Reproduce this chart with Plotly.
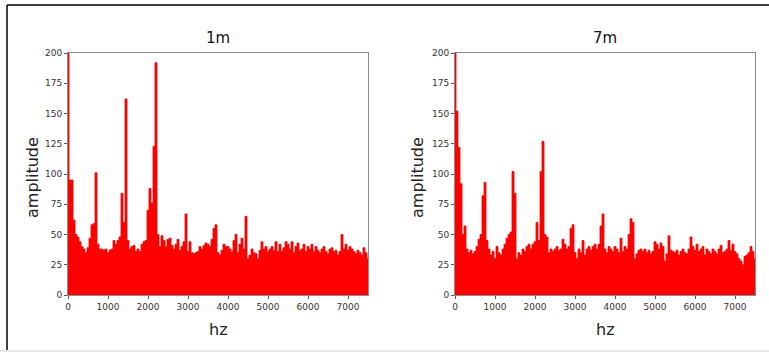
import plotly.graph_objects as go

# frequency grid (Hz), 50 Hz bins
hz = list(range(0, 7550, 50))

amp_1m = [
    240, 95, 95, 62, 50, 48, 44, 40, 38, 35,
    39, 47, 58, 59, 101, 42, 38, 38, 37, 38,
    35, 37, 38, 45, 42, 45, 48, 84, 60, 162,
    45, 38, 40, 41, 36, 38, 36, 42, 44, 45,
    70, 88, 76, 123, 192, 50, 40, 49, 45, 40,
    46, 47, 41, 38, 42, 46, 37, 40, 44, 67,
    36, 44, 35, 34, 35, 36, 40, 38, 41, 43,
    42, 40, 46, 55, 58, 35, 33, 37, 42, 40,
    40, 38, 36, 45, 50, 35, 42, 47, 38, 65,
    30, 33, 38, 35, 34, 30, 37, 44, 38, 40,
    36, 38, 40, 37, 44, 36, 42, 36, 39, 44,
    42, 38, 44, 35, 40, 43, 37, 38, 42, 36,
    40, 38, 42, 36, 40, 37, 35, 38, 40, 36,
    34, 38, 39, 36, 37, 33, 36, 50, 38, 42,
    37, 40, 38, 36, 34, 37, 35, 33, 39, 35, 30,
]

amp_7m = [
    240, 152, 122, 92, 50, 57, 38, 35, 37, 34,
    36, 40, 46, 50, 82, 93, 45, 38, 33, 36,
    30, 40, 35, 33, 38, 42, 47, 50, 52, 102,
    84, 30, 35, 33, 38, 36, 40, 42, 38, 42,
    44, 60, 45, 102, 127, 50, 48, 35, 38, 36,
    38, 40, 37, 38, 46, 42, 38, 40, 55, 58,
    35, 30, 38, 35, 45, 33, 38, 40, 37, 40,
    42, 38, 42, 57, 67, 38, 35, 40, 38, 36,
    40, 38, 35, 47, 36, 40, 38, 50, 63, 60,
    30, 34, 37, 38, 36, 38, 35, 37, 34, 36,
    44, 42, 38, 43, 40, 28, 34, 49, 37, 36,
    35, 37, 33, 36, 38, 35, 34, 38, 48, 40,
    37, 42, 36, 38, 40, 33, 38, 36, 34, 38,
    36, 34, 38, 41, 35, 36, 38, 45, 37, 42,
    36, 34, 30, 28, 25, 32, 33, 35, 40, 36, 30,
]

titles = ["1m", "7m"]
y_ticks = [0, 25, 50, 75, 100, 125, 150, 175, 200]
x_ticks = [0, 1000, 2000, 3000, 4000, 5000, 6000, 7000]

W, H = 769, 352
fig = go.Figure()

panels = [
    (amp_1m, "x", "y", (68, 368)),
    (amp_7m, "x2", "y2", (455, 755)),
]
for amp, xa, ya, _ in panels:
    fig.add_trace(go.Scatter(
        x=hz, y=amp, xaxis=xa, yaxis=ya, mode="lines",
        line=dict(color="#ff0000", width=0.8, shape="hvh"),
        fill="tozeroy", fillcolor="#ff0000", showlegend=False,
        hoverinfo="skip",
    ))

y_dom = [(352 - 295) / H, (352 - 53) / H]
axis_common = dict(
    showline=True, linecolor="#8c8c8c", linewidth=1, mirror=True,
    showgrid=False, zeroline=False, ticks="outside", ticklen=3,
    tickcolor="#555", automargin=False,
    tickfont=dict(family="DejaVu Sans", size=9, color="#333"),
)
layout = dict(
    width=W, height=H, margin=dict(l=0, r=0, t=0, b=0, pad=0),
    autosize=False,
    paper_bgcolor="white", plot_bgcolor="white",
    font=dict(family="DejaVu Sans"),
    xaxis=dict(domain=[68 / W, 368 / W], range=[0, 7500], tickvals=x_ticks,
               anchor="y", **axis_common),
    yaxis=dict(domain=y_dom, range=[0, 200], tickvals=y_ticks,
               anchor="x", **axis_common),
    xaxis2=dict(domain=[455 / W, 755 / W], range=[0, 7500], tickvals=x_ticks,
                anchor="y2", **axis_common),
    yaxis2=dict(domain=y_dom, range=[0, 200], tickvals=y_ticks,
                anchor="x2", **axis_common),
)
fig.update_layout(**layout)

ann = []
for (amp, xa, ya, (x0, x1)), t, ylab_x in zip(panels, titles, [33, 418]):
    cx = (x0 + x1) / 2 / W
    ann.append(dict(text=t, x=cx, y=(352 - 38) / H, xref="paper", yref="paper",
                    xanchor="center", yanchor="middle", showarrow=False,
                    font=dict(family="DejaVu Sans", size=15, color="#111")))
    ann.append(dict(text="hz", x=cx, y=(352 - 329) / H, xref="paper", yref="paper",
                    xanchor="center", yanchor="middle", showarrow=False,
                    font=dict(family="DejaVu Sans", size=16, color="#222")))
    ann.append(dict(text="amplitude", x=ylab_x / W, y=(352 - 178) / H, xref="paper",
                    yref="paper", xanchor="center", yanchor="middle", textangle=-90,
                    showarrow=False,
                    font=dict(family="DejaVu Sans", size=16, color="#222")))
fig.update_layout(annotations=ann)

# outer frame: black top and left border, light grey strip at bottom
fig.add_shape(type="line", xref="paper", yref="paper", x0=7 / W, x1=1,
              y0=(352 - 5) / H, y1=(352 - 5) / H, line=dict(color="black", width=1.5))
fig.add_shape(type="line", xref="paper", yref="paper", x0=7 / W, x1=7 / W,
              y0=2 / H, y1=(352 - 5) / H, line=dict(color="black", width=1.5))
fig.add_shape(type="rect", xref="paper", yref="paper", x0=0, x1=1, y0=0, y1=2 / H,
              line=dict(width=0), fillcolor="#e8e8e8")

fig.write_html("out.html", config={"displayModeBar": False},
               post_script="document.body.style.margin='0';document.body.style.overflow='hidden';")
